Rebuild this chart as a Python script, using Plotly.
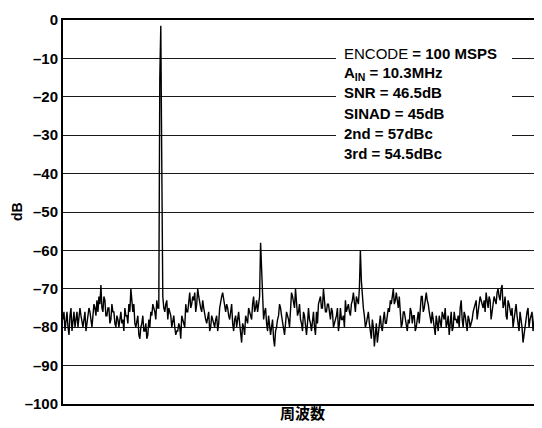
import plotly.graph_objects as go

# Spectrum values in dB. Even bins (every 2 px) ...
noise_a = [-78, -81, -76, -82, -75, -79, -80, -76, -78, -77, -80, -76, -79, -75, -78, -77,
           -75, -73, -72, -69, -76, -73, -77, -75, -78,
           -76, -79, -77, -80, -76, -78, -75, -77, -74,
           -70,
           -76, -79, -78, -82, -80, -77, -81, -83, -78, -76,
           -74, -76, -73, -75]
fundamental = [-1.5]
noise_b = [-72, -76, -73, -75, -77, -78,
           -80, -81, -79, -83, -78, -80,
           -76, -73, -75, -72, -71, -74, -72, -75, -73,
           -77, -79, -76, -80, -78, -80, -77, -79,
           -73, -71, -75,
           -74, -77, -76, -79, -78, -80, -76, -81, -79, -82,
           -78, -75, -77, -74, -76, -73, -74]
second_harm = [-58]
noise_c = [-73, -76, -79, -77, -82, -78, -85, -80,
           -77, -75, -79, -82, -76, -78,
           -74, -72, -75, -73, -76,
           -78, -81, -77, -82, -75, -79, -77, -80, -76,
           -74, -72, -75, -73, -76, -74,
           -78, -76, -79, -77, -81, -75, -78, -80, -76,
           -74, -77, -73, -75, -72, -74]
third_harm = [-60]
noise_d = [-73, -77, -79, -76, -81, -78, -85, -79, -82,
           -77, -81, -76, -79, -75,
           -73, -72, -74, -71, -75,
           -77, -79, -76, -80, -78, -75, -79, -77, -80, -76,
           -74, -72, -75, -71, -74,
           -78, -76, -80, -77, -81, -79, -76, -78, -80, -77, -79, -81, -76, -78, -77,
           -75, -78, -76, -79, -77, -80, -78,
           -75, -73, -76, -72, -74, -73, -71, -75,
           -73, -76, -72, -74, -70, -73, -69,
           -74, -77, -73, -76, -75, -78, -74, -79, -76, -80, -82,
           -77, -75, -78, -76, -79, -77, -78, -80, -79]

# ... and the odd bins lying between them
odd_bins = [-76, -79, -80, -77, -81, -76, -78, -80, -75, -79,
            -78, -81, -77, -76, -80, -74, -77, -76, -74, -75,
            -72, -77, -75, -79, -74, -76, -80, -78, -77, -79,
            -81, -77, -79, -76, -73, -74, -80, -77, -83, -79,
            -81, -79, -82, -80, -77, -75, -78, -75, -15, -38,
            -75, -74, -78, -76, -80, -77, -82, -81, -80, -77,
            -79, -74, -76, -71, -74, -73, -76, -70, -74, -76,
            -75, -78, -77, -81, -77, -79, -78, -81, -75, -72,
            -73, -76, -75, -78, -74, -81, -77, -78, -79, -84,
            -80, -77, -79, -76, -78, -72, -75, -76, -72, -66,
            -78, -75, -81, -79, -80, -83, -81, -78, -74, -77,
            -80, -79, -77, -80, -71, -74, -70, -77, -74, -79,
            -76, -80, -79, -78, -81, -76, -82, -79, -73, -75,
            -70, -76, -74, -77, -75, -80, -78, -75, -79, -78,
            -77, -73, -75, -76, -74, -71, -76, -73, -70, -68,
            -75, -80, -77, -79, -83, -80, -81, -84, -79, -80,
            -78, -79, -77, -76, -74, -70, -73, -73, -72, -80,
            -76, -78, -81, -79, -76, -77, -81, -78, -79, -72,
            -76, -73, -73, -76, -79, -78, -82, -79, -77, -80,
            -77, -75, -79, -82, -76, -80, -78, -79, -80, -73,
            -80, -77, -81, -78, -79, -76, -74, -78, -74, -73,
            -75, -76, -74, -72, -78, -74, -73, -71, -72, -70,
            -75, -72, -78, -74, -77, -80, -76, -77, -81, -78,
            -84, -79, -76, -80, -77, -81, -75, -79, -82, -76]

even_bins = noise_a + fundamental + noise_b + second_harm + noise_c + third_harm + noise_d
spectrum = []
for i, v in enumerate(even_bins):
    spectrum.append(v)
    if i < len(odd_bins):
        spectrum.append(odd_bins[i])
bins = list(range(len(spectrum)))

y_ticks = [0, -10, -20, -30, -40, -50, -60, -70, -80, -90, -100]
y_ticktext = ["0", "–10", "–20", "–30", "–40", "–50", "–60", "–70", "–80", "–90", "–100"]

info_lines = [
    "ENCODE <b>= 100 MSPS</b>",
    "<b>A<sub>IN</sub> = 10.3MHz</b>",
    "<b>SNR = 46.5dB</b>",
    "<b>SINAD = 45dB</b>",
    "<b>2nd = 57dBc</b>",
    "<b>3rd = 54.5dBc</b>",
]

# The page body has an 8 px margin, so the figure starts at (8, 8) in the window.
OFF = 8
W, H = 542 - OFF, 428 - OFF
PL, PR, PT, PB = 63, 542, 20, 404          # plot area in window pixels
ML, MR, MT, MB = PL - OFF, 542 - PR, PT - OFF, 428 - PB
PW, PH = PR - PL, PB - PT

def px(x):
    return (x - PL) / PW

def py(y):
    return (PB - y) / PH

fig = go.Figure()
fig.add_trace(go.Scatter(x=bins, y=spectrum, mode="lines",
                         line=dict(color="black", width=1.4), hoverinfo="skip"))

fig.add_shape(type="rect", xref="paper", yref="paper",
              x0=px(336), x1=px(512), y0=py(166), y1=py(42),
              fillcolor="white", line=dict(width=0), layer="above")

for i, t in enumerate(info_lines):
    fig.add_annotation(x=px(342), y=py(53 + 20 * i), xref="paper", yref="paper",
                       text=t, showarrow=False, xanchor="left", yanchor="middle",
                       font=dict(size=15, color="black"))

fig.add_annotation(x=px(302), y=py(413), xref="paper", yref="paper",
                   text="<b>周波数</b>", showarrow=False, xanchor="center",
                   yanchor="middle", font=dict(size=15, color="black"))
fig.add_annotation(x=px(17), y=py(212), xref="paper", yref="paper",
                   text="<b>dB</b>", showarrow=False, textangle=-90,
                   xanchor="center", yanchor="middle",
                   font=dict(size=14, color="black"))

font_fam = "Liberation Sans, Arial, Noto Sans CJK JP, sans-serif"
fig.update_layout(
    width=W, height=H,
    margin=dict(l=ML, r=MR, t=MT, b=MB, autoexpand=False),
    paper_bgcolor="white", plot_bgcolor="white",
    showlegend=False,
    font=dict(family=font_fam, size=12, color="black"),
    xaxis=dict(range=[0, len(spectrum) - 1], showticklabels=False, ticks="",
               showgrid=False, zeroline=False, showline=True, linecolor="black",
               linewidth=2, mirror=True, automargin=False),
    yaxis=dict(range=[-100, 0], tickvals=y_ticks, ticktext=y_ticktext,
               tickfont=dict(size=15, weight="bold"), ticks="", ticklen=0,
               showgrid=True, gridcolor="#1a1a1a", gridwidth=1.3,
               zeroline=False, showline=True, linecolor="black", linewidth=2,
               automargin=False),
)

fig.write_html("out.html")
